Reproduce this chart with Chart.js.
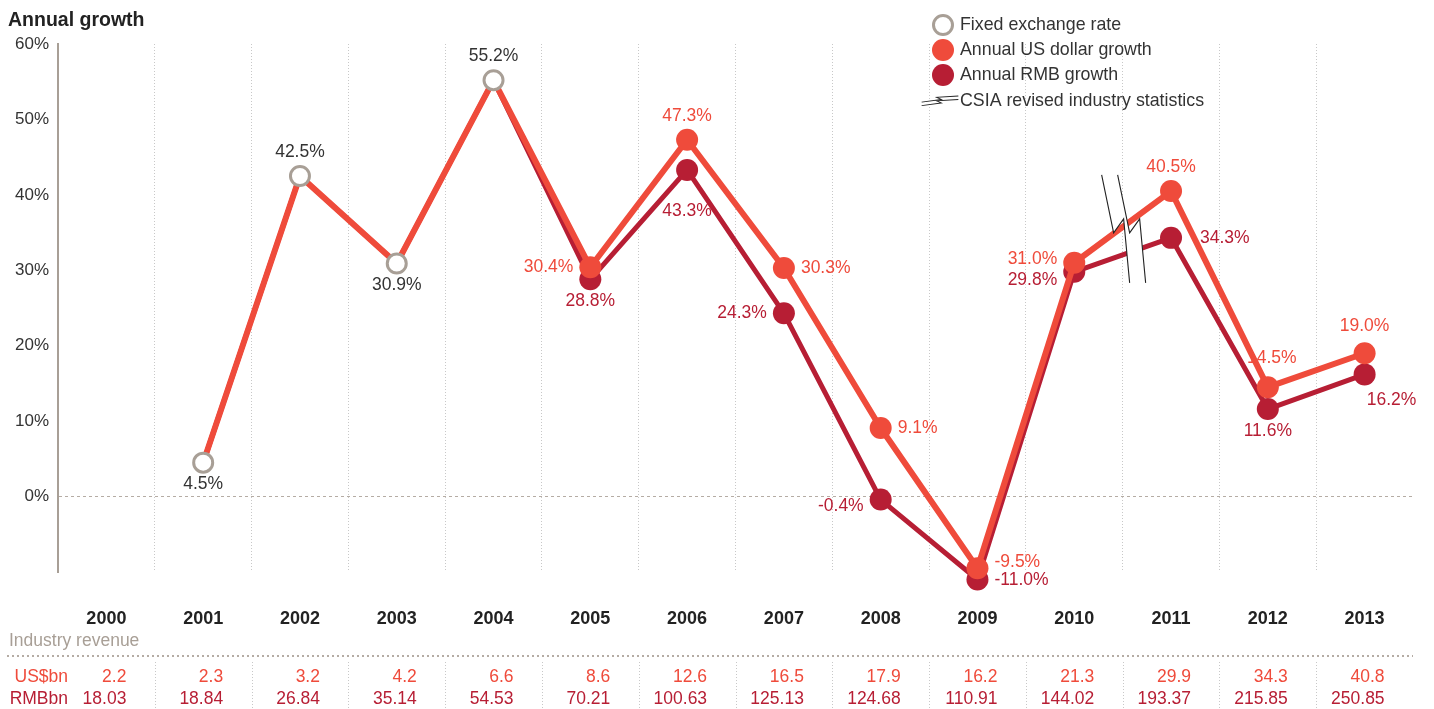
<!DOCTYPE html>
<html>
<head>
<meta charset="utf-8">
<script src="https://cdn.jsdelivr.net/npm/chart.js@4.4.1/dist/chart.umd.min.js"></script>
<style>
  html, body { margin: 0; padding: 0; background: #fff; }
  #growthChart { display: block; }
</style>
</head>
<body>
<canvas id="growthChart" width="1434" height="709"></canvas>
<script>
// data
const years = ['2000', '2001', '2002', '2003', '2004', '2005', '2006', '2007', '2008', '2009', '2010', '2011', '2012', '2013'];
const fixedRate = [null, 4.5, 42.5, 30.9, 55.2, null, null, null, null, null, null, null, null, null];
const usdGrowth = [null, 4.5, 42.5, 30.9, 55.2, 30.4, 47.3, 30.3, 9.1, -9.5, 31.0, 40.5, 14.5, 19.0];
const rmbGrowth = [null, 4.5, 42.5, 30.9, 55.2, 28.8, 43.3, 24.3, -0.4, -11.0, 29.8, 34.3, 11.6, 16.2];
const revenueUsd = ['2.2', '2.3', '3.2', '4.2', '6.6', '8.6', '12.6', '16.5', '17.9', '16.2', '21.3', '29.9', '34.3', '40.8'];
const revenueRmb = ['18.03', '18.84', '26.84', '35.14', '54.53', '70.21', '100.63', '125.13', '124.68', '110.91', '144.02', '193.37', '215.85', '250.85'];
const legendItems = ['Fixed exchange rate', 'Annual US dollar growth', 'Annual RMB growth', 'CSIA revised industry statistics'];
const breakBetween = [10, 11]; // revised statistics from 2011

// where each value label sits: [side, dx, dy] (style, not data)
const fixedLabelPos = {1: ['below', 0, 0], 2: ['above', 0, 0], 3: ['below', 0, 0], 4: ['above', 0, 0]};
const usdLabelPos = {5: ['left', 0, 0], 6: ['above', 0, 0], 7: ['right', 0, 0], 8: ['right', 0, 0], 9: ['right', 0, -6],
                     10: ['left', 0, -4], 11: ['above', 0, 0], 12: ['above', 4, -5], 13: ['above', 0, -3]};
const rmbLabelPos = {5: ['below', 0, 0], 6: ['below', 0, 19], 7: ['left', 0, 0], 8: ['left', 0, 7], 9: ['right', 0, 1],
                     10: ['left', 0, 8], 11: ['right', 12, 0], 12: ['below', 0, 0], 13: ['below', 27, 4]};

const USD = '#ef4b3b';
const RMB = '#b71e34';
const GREY = '#a89f96';
const TEXT = '#333';
const FONT = '"Liberation Sans", Arial, Helvetica, sans-serif';

function drawBreak(ctx, cx, cy, lw) {
    // two parallel lightning strands, white between them
    const strand = [[-13, -54], [-1, 4], [9, -10], [15, 54]];
    const a = strand.map(p => [p[0] - 8 + cx, p[1] + cy]);
    const b = strand.map(p => [p[0] + 8 + cx, p[1] + cy]);
    ctx.save();
    ctx.beginPath();
    a.forEach((p, i) => i ? ctx.lineTo(p[0], p[1]) : ctx.moveTo(p[0], p[1]));
    b.slice().reverse().forEach(p => ctx.lineTo(p[0], p[1]));
    ctx.closePath();
    ctx.fillStyle = '#fff';
    ctx.fill();
    ctx.strokeStyle = '#222';
    ctx.lineWidth = lw;
    [a, b].forEach(s => {
        ctx.beginPath();
        s.forEach((p, i) => i ? ctx.lineTo(p[0], p[1]) : ctx.moveTo(p[0], p[1]));
        ctx.stroke();
    });
    ctx.restore();
}

const extras = {
    id: 'extras',
    afterDatasetsDraw(chart) {
        const ctx = chart.ctx;
        const x = chart.scales.x;
        const y = chart.scales.y;
        const area = chart.chartArea;

        // break symbol between 2010 and 2011
        const i0 = breakBetween[0], i1 = breakBetween[1];
        const bx = (x.getPixelForValue(i0) + x.getPixelForValue(i1)) / 2;
        const yu = y.getPixelForValue((usdGrowth[i0] + usdGrowth[i1]) / 2);
        const yr = y.getPixelForValue((rmbGrowth[i0] + rmbGrowth[i1]) / 2);
        drawBreak(ctx, bx, (yu + yr) / 2 - 12, 1.1);

        // value labels
        ctx.save();
        ctx.font = '17.5px ' + FONT;
        ctx.textBaseline = 'middle';
        const put = (text, px, py, spec, color) => {
            const [pos, dx, dy] = spec;
            ctx.fillStyle = color;
            if (pos === 'above') { ctx.textAlign = 'center'; ctx.fillText(text, px + dx, py - 24 + dy); }
            else if (pos === 'below') { ctx.textAlign = 'center'; ctx.fillText(text, px + dx, py + 22 + dy); }
            else if (pos === 'left') { ctx.textAlign = 'right'; ctx.fillText(text, px - 17 + dx, py + dy); }
            else { ctx.textAlign = 'left'; ctx.fillText(text, px + 17 + dx, py + dy); }
        };
        const labelSeries = (values, specs, color) => {
            Object.keys(specs).forEach(k => {
                const i = +k, v = values[i];
                put(v.toFixed(1) + '%', x.getPixelForValue(i), y.getPixelForValue(v), specs[k], color);
            });
        };
        labelSeries(fixedRate, fixedLabelPos, TEXT);
        labelSeries(usdGrowth, usdLabelPos, USD);
        labelSeries(rmbGrowth, rmbLabelPos, RMB);

        // title
        ctx.fillStyle = '#222';
        ctx.textAlign = 'left';
        ctx.textBaseline = 'alphabetic';
        ctx.font = 'bold 19.5px ' + FONT;
        ctx.fillText('Annual growth', 8, 26);

        // legend
        const lx = 943, ly = [25, 50, 75, 101];
        ctx.beginPath(); ctx.arc(lx, ly[0], 9.5, 0, Math.PI * 2);
        ctx.fillStyle = '#fff'; ctx.fill();
        ctx.lineWidth = 3; ctx.strokeStyle = GREY; ctx.stroke();
        ctx.beginPath(); ctx.arc(lx, ly[1], 11, 0, Math.PI * 2); ctx.fillStyle = USD; ctx.fill();
        ctx.beginPath(); ctx.arc(lx, ly[2], 11, 0, Math.PI * 2); ctx.fillStyle = RMB; ctx.fill();
        ctx.save();
        ctx.translate(lx - 3, ly[3]);
        ctx.rotate(-Math.PI / 2);
        ctx.scale(0.22, 0.34);
        drawBreak(ctx, 0, 0, 4);
        ctx.restore();
        ctx.font = '17.8px ' + FONT;
        ctx.fillStyle = TEXT;
        ctx.textBaseline = 'middle';
        legendItems.forEach((t, i) => ctx.fillText(t, 960, ly[i]));

        // revenue table
        ctx.fillStyle = GREY;
        ctx.font = '17.5px ' + FONT;
        ctx.fillText('Industry revenue', 9, 641);
        ctx.save();
        ctx.strokeStyle = '#b5aca4';
        ctx.lineWidth = 2;
        ctx.setLineDash([2, 3]);
        ctx.beginPath(); ctx.moveTo(7, 656); ctx.lineTo(area.right, 656); ctx.stroke();
        ctx.strokeStyle = '#c8c8c8';
        ctx.lineWidth = 1;
        ctx.setLineDash([1, 2]);
        for (let i = 0; i < years.length - 1; i++) {
            const gx = Math.round((x.getPixelForValue(i) + x.getPixelForValue(i + 1)) / 2) + 0.5;
            ctx.beginPath(); ctx.moveTo(gx, 662); ctx.lineTo(gx, 709); ctx.stroke();
        }
        ctx.restore();
        ctx.textAlign = 'right';
        ctx.fillStyle = USD;
        ctx.fillText('US$bn', 68, 677);
        ctx.fillStyle = RMB;
        ctx.fillText('RMBbn', 68, 699);
        years.forEach((yr, i) => {
            const tx = x.getPixelForValue(i) + 20;
            ctx.fillStyle = USD;
            ctx.fillText(revenueUsd[i], tx, 677);
            ctx.fillStyle = RMB;
            ctx.fillText(revenueRmb[i], tx, 699);
        });
        ctx.restore();
    }
};

const ctx = document.getElementById('growthChart').getContext('2d');
new Chart(ctx, {
    type: 'line',
    data: {
        labels: years,
        datasets: [
            {
                label: 'Fixed exchange rate',
                data: fixedRate,
                showLine: false,
                pointRadius: 9.5,
                pointBorderWidth: 3,
                pointBorderColor: GREY,
                pointBackgroundColor: '#fff',
                clip: false
            },
            {
                label: 'Annual US dollar growth',
                data: usdGrowth,
                borderColor: USD,
                backgroundColor: USD,
                borderWidth: 6,
                borderJoinStyle: 'round',
                borderCapStyle: 'round',
                pointRadius: c => c.dataIndex < 5 ? 0 : 11,
                pointBorderWidth: 0,
                pointBackgroundColor: USD,
                tension: 0,
                clip: false
            },
            {
                label: 'Annual RMB growth',
                data: rmbGrowth,
                borderColor: RMB,
                backgroundColor: RMB,
                borderWidth: 5,
                borderJoinStyle: 'round',
                borderCapStyle: 'round',
                pointRadius: c => c.dataIndex < 5 ? 0 : 11,
                pointBorderWidth: 0,
                pointBackgroundColor: RMB,
                tension: 0,
                clip: false
            }
        ]
    },
    options: {
        responsive: false,
        animation: false,
        events: [],
        devicePixelRatio: 1,
        layout: { padding: { left: 0, right: 21, top: 44, bottom: 0 } },
        plugins: {
            legend: { display: false },
            title: { display: false },
            tooltip: { enabled: false }
        },
        scales: {
            x: {
                offset: true,
                afterFit: s => { s.height = 137; },
                grid: {
                    offset: true,
                    drawTicks: false,
                    lineWidth: 1,
                    color: c => (c.index === undefined || c.index === 0) ? 'rgba(0,0,0,0)' : '#c8c8c8'
                },
                border: { display: false, dash: [1, 2] },
                ticks: {
                    color: '#222',
                    padding: 36,
                    font: { family: FONT, size: 18, weight: 'bold' }
                }
            },
            y: {
                min: -10,
                max: 60,
                afterFit: s => { s.width = 58; },
                grid: {
                    drawTicks: false,
                    lineWidth: 1,
                    color: c => (c.tick && c.tick.value === 0) ? '#b5aca4' : 'rgba(0,0,0,0)'
                },
                border: { display: true, color: GREY, width: 2, dash: [3, 3] },
                ticks: {
                    stepSize: 10,
                    padding: 9,
                    color: TEXT,
                    font: { family: FONT, size: 17 },
                    callback: v => v < 0 ? '' : v + '%'
                }
            }
        }
    },
    plugins: [extras]
});
</script>
</body>
</html>
